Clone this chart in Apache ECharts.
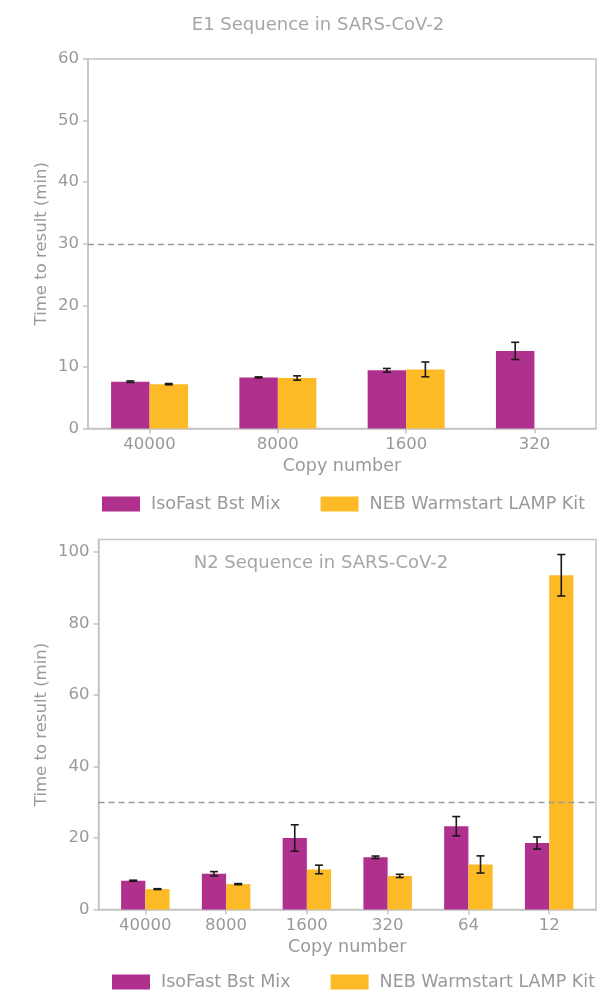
<!DOCTYPE html>
<html>
<head>
<meta charset="utf-8">
<script src="https://cdn.jsdelivr.net/npm/echarts@6/dist/echarts.min.js"></script>
<style>
  html, body { margin: 0; padding: 0; background: #fff; }
  #chart { width: 614px; height: 992px; }
</style>
</head>
<body>
<div id="chart"></div>
<script>
// E1 assay: mean time to result (min) and error per copy number
const categoriesE1 = ['40000', '8000', '1600', '320'];
const isoFastE1 = [7.6, 8.3, 9.45, 12.6];
const isoFastE1Err = [0.12, 0.08, 0.3, 1.4];
const nebE1 = [7.2, 8.2, 9.6, 0];
const nebE1Err = [0.1, 0.35, 1.2, 0];
const yTicksE1 = [0, 10, 20, 30, 40, 50, 60];

// N2 assay
const categoriesN2 = ['40000', '8000', '1600', '320', '64', '12'];
const isoFastN2 = [8.05, 10.0, 20.0, 14.6, 23.3, 18.6];
const isoFastN2Err = [0.15, 0.6, 3.7, 0.35, 2.7, 1.7];
const nebN2 = [5.7, 7.1, 11.2, 9.4, 12.6, 93.5];
const nebN2Err = [0.12, 0.15, 1.2, 0.45, 2.4, 5.8];
const yTicksN2 = [0, 20, 40, 60, 80, 100];

const thresholdMin = 30;
const seriesNames = ['IsoFast Bst Mix', 'NEB Warmstart LAMP Kit'];

const PURPLE = '#B0308E';
const YELLOW = '#FDBA27';
const TEXT = '#999999';
const TITLE = '#a6a6a6';
const FRAME = '#c4c4c4';
const FONT = '"DejaVu Sans", sans-serif';
const BAR_FRACTION = 0.3; // bar width in category units

function pairs(vals) { return vals.map((v, i) => [i, v]); }
function triples(vals, errs) { return vals.map((v, i) => [i, v, errs[i]]); }

// x extent with a 5% margin around the outermost bar edges
function xExtent(n) {
  const lo = -BAR_FRACTION, hi = n - 1 + BAR_FRACTION;
  const pad = 0.05 * (hi - lo);
  return [lo - pad, hi + pad];
}

function errorBars(offset) {
  return function (params, api) {
    const x = api.value(0) + offset;
    const y = api.value(1);
    const e = api.value(2);
    if (!e) return null;
    const top = api.coord([x, y + e]);
    const bot = api.coord([x, y - e]);
    const cap = 4;
    const style = { stroke: '#1a1a1a', lineWidth: 1.6 };
    return {
      type: 'group',
      children: [
        { type: 'line', shape: { x1: top[0], y1: top[1], x2: bot[0], y2: bot[1] }, style },
        { type: 'line', shape: { x1: top[0] - cap, y1: top[1], x2: top[0] + cap, y2: top[1] }, style },
        { type: 'line', shape: { x1: bot[0] - cap, y1: bot[1], x2: bot[0] + cap, y2: bot[1] }, style }
      ]
    };
  };
}

function xAxisFor(cats, gridIndex) {
  const ext = xExtent(cats.length);
  const idx = cats.map((c, i) => i);
  return {
    type: 'value', gridIndex, min: ext[0], max: ext[1],
    name: 'Copy number', nameLocation: 'middle', nameGap: 29,
    nameTextStyle: { color: TEXT, fontSize: 17.5, fontFamily: FONT },
    splitLine: { show: false },
    axisLine: { show: true, onZero: false, lineStyle: { color: FRAME, width: 1.5 } },
    axisTick: { show: true, customValues: idx, length: 5, lineStyle: { color: FRAME, width: 1.5 } },
    axisLabel: { customValues: idx, margin: 8, color: TEXT, fontSize: 16.5, fontFamily: FONT,
      formatter: v => cats[Math.round(v)] }
  };
}

function yAxisFor(ticks, max, gridIndex, nameGap) {
  return {
    type: 'value', gridIndex, min: 0, max,
    name: 'Time to result (min)', nameLocation: 'middle', nameGap, nameMoveOverlap: false,
    nameTextStyle: { color: TEXT, fontSize: 16.5, fontFamily: FONT },
    splitLine: { show: false },
    axisLine: { show: true, onZero: false, lineStyle: { color: FRAME, width: 1.5 } },
    axisTick: { show: true, customValues: ticks, length: 5, lineStyle: { color: FRAME, width: 1.5 } },
    axisLabel: { customValues: ticks, margin: 9, color: TEXT, fontSize: 16.5, fontFamily: FONT }
  };
}

function barSeries(name, vals, color, axisIndex, withThreshold) {
  const s = {
    name, type: 'bar', xAxisIndex: axisIndex, yAxisIndex: axisIndex,
    data: pairs(vals), barWidth: (BAR_FRACTION * 100) + '%', barGap: '0%',
    itemStyle: { color }, emphasis: { disabled: true }
  };
  if (withThreshold) {
    s.markLine = {
      silent: true, symbol: 'none', label: { show: false },
      lineStyle: { color: '#9a9a9a', width: 1.3, type: [6, 4] },
      data: [{ yAxis: thresholdMin }]
    };
  }
  return s;
}

function errSeries(vals, errs, offset, axisIndex) {
  return {
    type: 'custom', xAxisIndex: axisIndex, yAxisIndex: axisIndex, z: 5,
    renderItem: errorBars(offset), data: triples(vals, errs),
    encode: { x: 0, y: 1 }, silent: true
  };
}

function legendAt(left, top) {
  return {
    data: seriesNames, left, top, icon: 'rect', itemWidth: 38, itemHeight: 15, itemGap: 40,
    textStyle: { color: TEXT, fontSize: 17.5, fontFamily: FONT, padding: [0, 0, 0, 6] }
  };
}

const chart = echarts.init(document.getElementById('chart'), null, { renderer: 'canvas' });
chart.setOption({
  animation: false,
  backgroundColor: '#fff',
  title: [
    { text: 'E1 Sequence in SARS-CoV-2', left: 313, top: 11, textAlign: 'center',
      textStyle: { color: TITLE, fontSize: 18, fontWeight: 'normal', fontFamily: FONT } },
    { text: 'N2 Sequence in SARS-CoV-2', left: 316, top: 549, textAlign: 'center',
      textStyle: { color: TITLE, fontSize: 18, fontWeight: 'normal', fontFamily: FONT } }
  ],
  legend: [legendAt(97, 490), legendAt(107, 968)],
  grid: [
    { left: 88, right: 18, top: 59, height: 369.5, show: true, borderColor: FRAME, borderWidth: 1.5 },
    { left: 98.5, right: 18, top: 539.5, height: 370, show: true, borderColor: FRAME, borderWidth: 1.5 }
  ],
  xAxis: [xAxisFor(categoriesE1, 0), xAxisFor(categoriesN2, 1)],
  yAxis: [yAxisFor(yTicksE1, 60, 0, 38), yAxisFor(yTicksN2, 103.5, 1, 48)],
  series: [
    barSeries(seriesNames[0], isoFastE1, PURPLE, 0, true),
    barSeries(seriesNames[1], nebE1, YELLOW, 0, false),
    errSeries(isoFastE1, isoFastE1Err, -BAR_FRACTION / 2, 0),
    errSeries(nebE1, nebE1Err, BAR_FRACTION / 2, 0),
    barSeries(seriesNames[0], isoFastN2, PURPLE, 1, true),
    barSeries(seriesNames[1], nebN2, YELLOW, 1, false),
    errSeries(isoFastN2, isoFastN2Err, -BAR_FRACTION / 2, 1),
    errSeries(nebN2, nebN2Err, BAR_FRACTION / 2, 1)
  ]
});
</script>
</body>
</html>
